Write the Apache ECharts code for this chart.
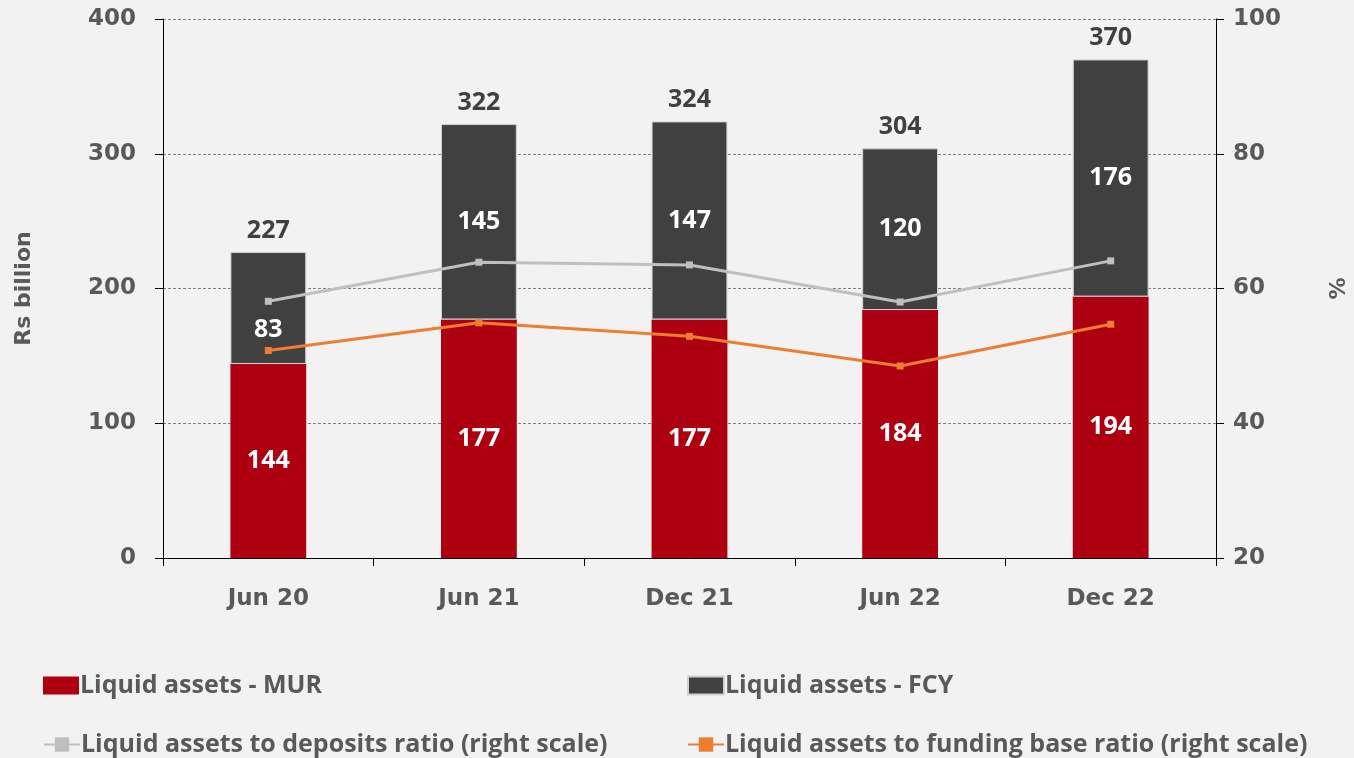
<!DOCTYPE html>
<html>
<head>
<meta charset="utf-8">
<script src="https://cdn.jsdelivr.net/npm/echarts@6/dist/echarts.min.js"></script>
<style>
  html, body { margin: 0; padding: 0; background: #f2f2f2; }
  #chart { width: 1354px; height: 758px; }
</style>
</head>
<body>
<div id="chart"></div>
<script>
// categories and values
const categories = ['Jun 20', 'Jun 21', 'Dec 21', 'Jun 22', 'Dec 22'];
const murAssets = [144, 177, 177, 184, 194];
const fcyAssets = [83, 145, 147, 120, 176];
const totalAssets = [227, 322, 324, 304, 370];
const depositsRatio = [58.1, 63.9, 63.5, 58.0, 64.1];
const fundingRatio = [50.8, 54.9, 52.9, 48.5, 54.7];

const labelFont = '"Open Sans", sans-serif';
const axisFont = '"DejaVu Sans", sans-serif';
const grey = '#595959';

const legendText = { fontFamily: labelFont, fontWeight: 'bold', fontSize: 25, color: grey, padding: [0, 0, 0, -4] };
function legendAt(name, left, top, icon) {
  return { data: [name], left: left, top: top, itemWidth: 36, itemHeight: 18, icon: icon, textStyle: legendText };
}

const chart = echarts.init(document.getElementById('chart'));

chart.setOption({
  backgroundColor: '#f2f2f2',
  animation: false,
  grid: { left: 163, right: 138, top: 19, bottom: 200, outerBoundsMode: 'none' },
  legend: [
    legendAt('Liquid assets - MUR', 38, 668, 'rect'),
    legendAt('Liquid assets - FCY', 682, 668, 'rect'),
    legendAt('Liquid assets to deposits ratio (right scale)', 38, 727),
    legendAt('Liquid assets to funding base ratio (right scale)', 682, 727)
  ],
  xAxis: {
    type: 'category',
    data: categories,
    axisLine: { lineStyle: { color: '#000', width: 1 } },
    axisTick: { show: true, length: 8, lineStyle: { color: '#000' } },
    axisLabel: { fontFamily: axisFont, fontWeight: 'bold', fontSize: 23, color: grey, margin: 30 }
  },
  yAxis: [
    {
      type: 'value', min: 0, max: 400, interval: 100,
      name: 'Rs billion', nameLocation: 'middle', nameGap: 128,
      nameTextStyle: { fontFamily: axisFont, fontWeight: 'bold', fontSize: 22, color: grey },
      axisLine: { show: true, lineStyle: { color: '#000' } },
      axisTick: { show: true, length: 8, lineStyle: { color: '#000' } },
      axisLabel: { fontFamily: axisFont, fontWeight: 'bold', fontSize: 23, color: grey, margin: 27 },
      splitLine: { lineStyle: { color: '#808080', type: [3, 2], width: 1 } }
    },
    {
      type: 'value', min: 20, max: 100, interval: 20,
      name: '%', nameLocation: 'middle', nameGap: 112,
      nameTextStyle: { fontFamily: axisFont, fontWeight: 'bold', fontSize: 22, color: grey },
      axisLine: { show: true, lineStyle: { color: '#000' } },
      axisTick: { show: true, length: 8, lineStyle: { color: '#000' } },
      axisLabel: { fontFamily: axisFont, fontWeight: 'bold', fontSize: 23, color: grey, margin: 17 },
      splitLine: { show: false }
    }
  ],
  series: [
    {
      name: 'Liquid assets - MUR', type: 'bar', stack: 'assets', barWidth: '36%',
      itemStyle: { color: '#ad0010' },
      label: { show: true, position: 'inside', color: '#fff', fontFamily: labelFont, fontWeight: 'bold', fontSize: 25 },
      data: murAssets
    },
    {
      name: 'Liquid assets - FCY', type: 'bar', stack: 'assets',
      itemStyle: { color: '#404040', borderColor: '#d0d0d0', borderWidth: 1 },
      label: { show: true, position: 'inside', color: '#fff', fontFamily: labelFont, fontWeight: 'bold', fontSize: 25 },
      // first label sits lower so the ratio line does not cross it
      data: fcyAssets.map((v, i) => i === 0 ? { value: v, label: { offset: [0, 22] } } : v)
    },
    {
      name: 'Total', type: 'bar', stack: 'assets',
      itemStyle: { color: 'transparent' },
      label: {
        show: true, position: 'top', distance: 9, color: '#404040',
        fontFamily: labelFont, fontWeight: 'bold', fontSize: 25,
        formatter: p => totalAssets[p.dataIndex]
      },
      data: totalAssets.map(() => 0)
    },
    {
      name: 'Liquid assets to deposits ratio (right scale)', type: 'line', yAxisIndex: 1,
      symbol: 'rect', symbolSize: 7, showSymbol: true,
      lineStyle: { color: '#bfbfbf', width: 3 }, itemStyle: { color: '#bfbfbf' },
      data: depositsRatio
    },
    {
      name: 'Liquid assets to funding base ratio (right scale)', type: 'line', yAxisIndex: 1,
      symbol: 'rect', symbolSize: 7, showSymbol: true,
      lineStyle: { color: '#ed7d31', width: 3 }, itemStyle: { color: '#ed7d31' },
      data: fundingRatio
    }
  ]
});
</script>
</body>
</html>
